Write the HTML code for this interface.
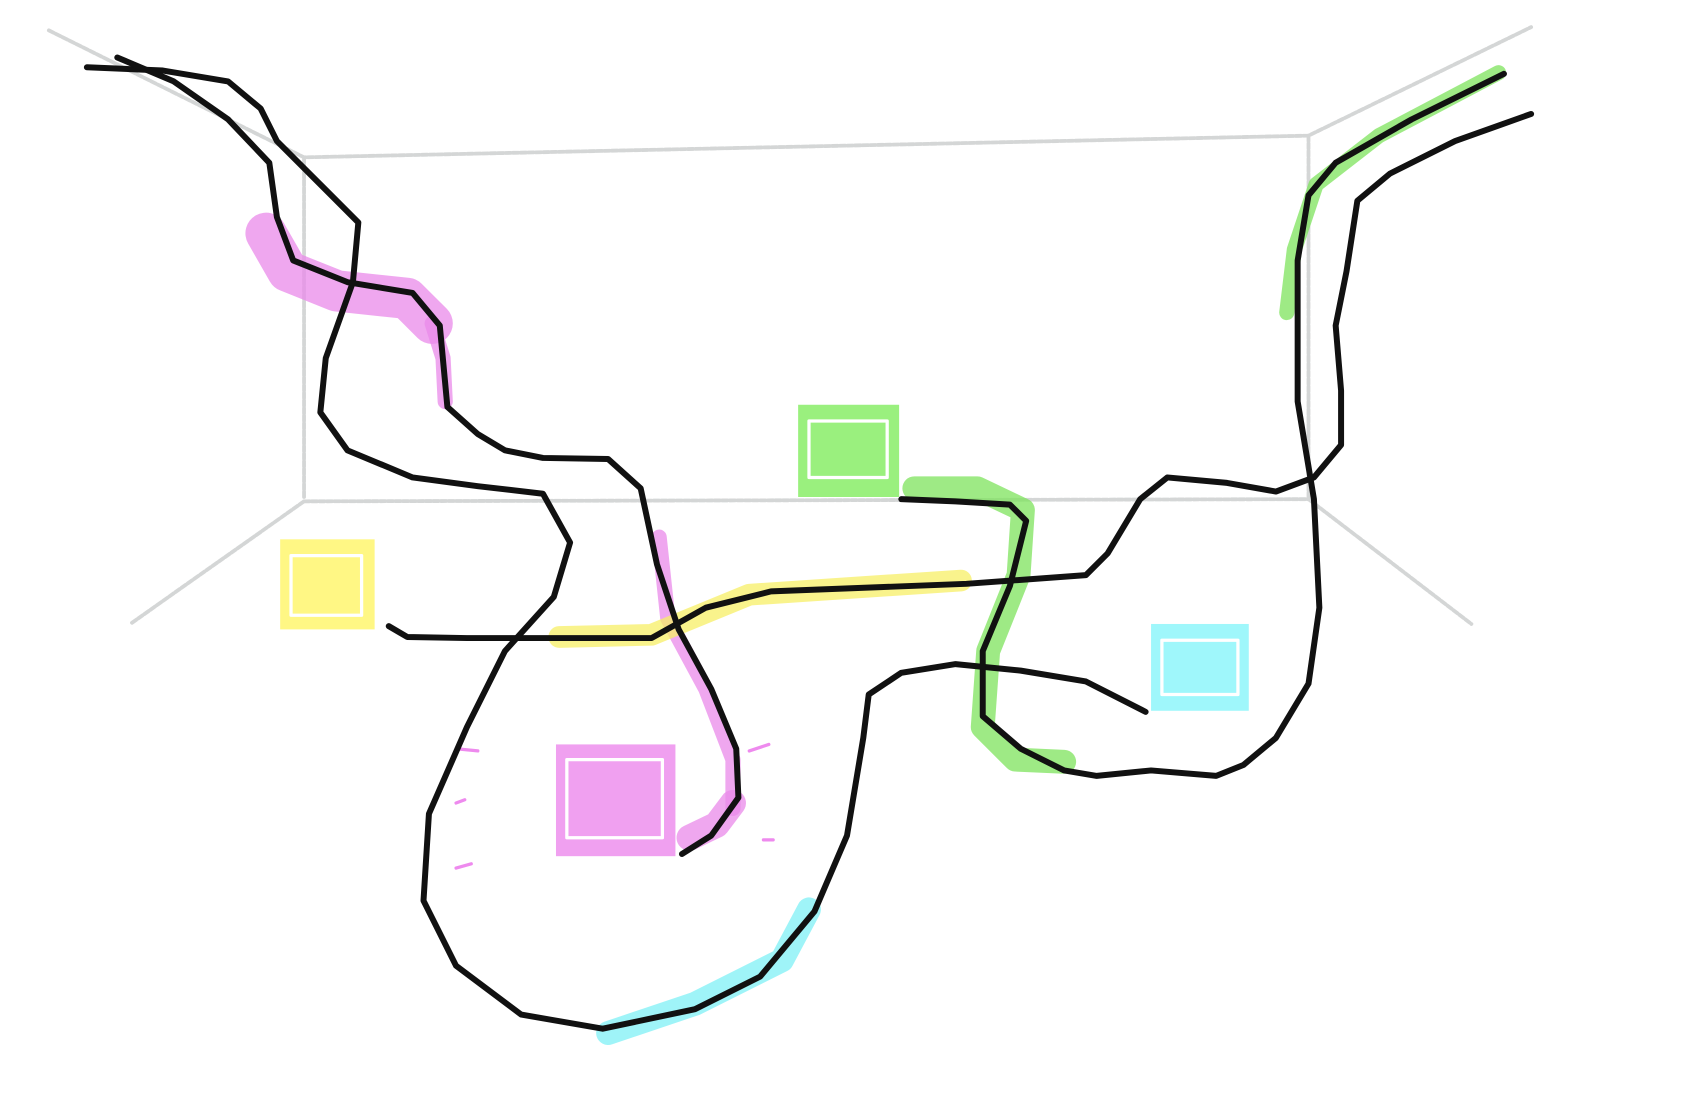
<!DOCTYPE html>
<html><head><style>html,body{margin:0;padding:0;background:#fff;width:1694px;height:1096px;overflow:hidden}</style></head>
<body>
<svg width="1694" height="1096" viewBox="0 0 1560 1010" preserveAspectRatio="none" xmlns="http://www.w3.org/2000/svg">
<g fill="none" stroke-linecap="round" stroke-linejoin="round">
<g stroke="#d4d6d6" stroke-width="3.5" stroke-dasharray="5 2">
<polyline points="45,28 280,145 1205,125 1410,25"/>
<polyline points="280,145 280,460"/>
<polyline points="1205,125 1205,460"/>
<polyline points="280,462 1205,460"/>
<polyline points="280,462 120,575"/>
<polyline points="1205,460 1355,575"/>
</g>
<g stroke="none">
<rect x="735" y="373" width="93" height="85" fill="#9af07e"/>
<rect x="258" y="497" width="87" height="83" fill="#fff784"/>
<rect x="1060" y="575" width="90" height="80" fill="#9ff7fb"/>
<rect x="512" y="686" width="110" height="103" fill="#f0a0f0"/>
</g>
<g stroke="#fff" stroke-width="3">
<rect x="745" y="388" width="72" height="52"/>
<rect x="268" y="512" width="65" height="55"/>
<rect x="1070" y="590" width="70" height="50"/>
<rect x="522" y="700" width="88" height="72"/>
</g>
<g stroke-opacity="0.75">
<polyline stroke="#e98ae9" stroke-width="38" points="245,215 265,250 310,268 375,275 398,298"/>
<polyline stroke="#e98ae9" stroke-width="14" points="398,298 408,330 410,370"/>
<polyline stroke="#e98ae9" stroke-width="14" points="607,495 615,570 650,635 675,700 675,745"/>
<polyline stroke="#e98ae9" stroke-width="24" points="675,740 660,760 635,772"/>
<polyline stroke="#f7ef66" stroke-width="20" points="515,587 600,585 690,548 885,535"/>
<polyline stroke="#7de35c" stroke-width="14" points="1380,67 1270,125 1212,170 1192,230 1185,288"/>
<polyline stroke="#7de35c" stroke-width="22" points="842,450 900,450 942,470 938,530 910,600 905,670 935,700 980,702"/>
<polyline stroke="#7ff0f5" stroke-width="22" points="745,838 720,885 640,925 560,952"/>
</g>
<g stroke="#ee8aee" stroke-width="3">
<line x1="420" y1="690" x2="440" y2="692"/><line x1="420" y1="740" x2="428" y2="737"/>
<line x1="420" y1="800" x2="434" y2="796"/><line x1="690" y1="692" x2="708" y2="686"/>
<line x1="703" y1="774" x2="712" y2="774"/>
</g>
<g stroke="#111" stroke-width="5.5">
<polyline points="80,62 150,65 210,75 240,100 255,130 300,175 330,205 325,260 300,330 295,380 320,415 380,440 440,448 500,455 525,500 510,550 465,600 430,670 395,750 390,830 420,890 480,935 555,948 640,930 700,900 750,840 780,770 795,680 800,640 830,620 880,612 940,618 1000,628 1055,656"/>
<polyline points="108,53 160,75 210,110 248,150 255,200 270,240 320,260 380,270 405,300 412,375 440,400 465,415 500,422 560,423 590,450 605,520 625,580 655,635 678,690 680,735 655,770 628,787"/>
<polyline points="358,577 375,587 430,588 600,588 650,560 710,545 890,538 1000,530 1020,510 1050,460 1075,440 1130,445 1175,453 1210,440 1235,410 1235,360 1230,300 1240,250 1250,185 1280,160 1340,130 1410,105"/>
<polyline points="1385,68 1300,110 1230,150 1205,180 1195,240 1195,370 1210,460 1215,560 1205,630 1175,680 1145,705 1120,715 1060,710 1010,715 980,710 940,690 905,660 905,600 930,540 945,480 930,465 880,462 830,460"/>
</g>
</g>
</svg>
</body></html>
